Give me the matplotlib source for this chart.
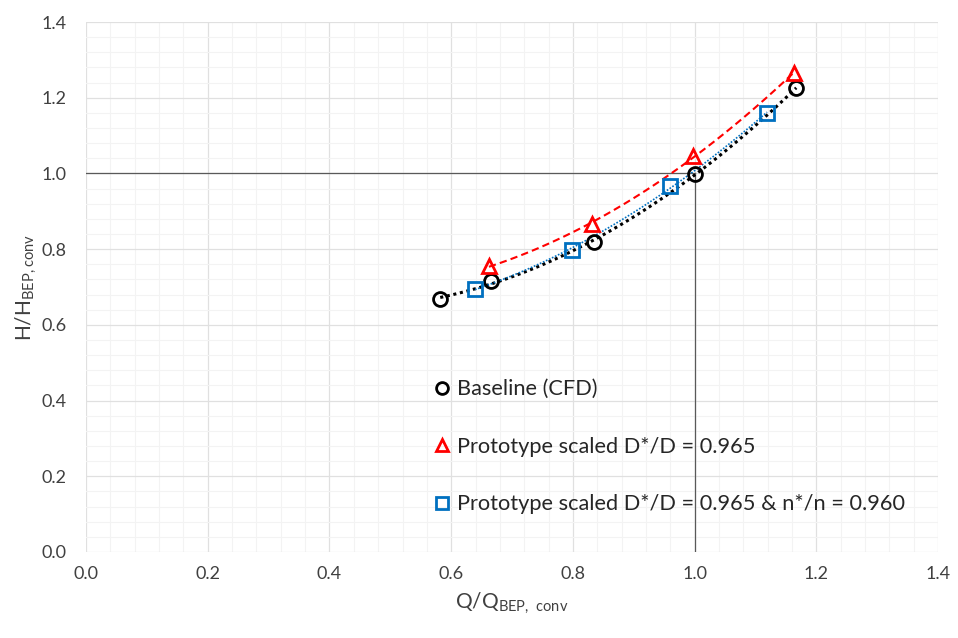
import matplotlib
matplotlib.use("Agg")
import matplotlib.pyplot as plt
from matplotlib.ticker import MultipleLocator
import numpy as np

plt.rcParams['font.family'] = ['Lato', 'DejaVu Sans']
plt.rcParams['mathtext.fontset'] = 'custom'
plt.rcParams['mathtext.rm'] = 'Lato'

# Data
q_base = [0.582, 0.665, 0.835, 1.000, 1.167]
h_base = [0.668, 0.716, 0.819, 0.998, 1.226]

q_scaled = [0.662, 0.831, 0.997, 1.163]
h_scaled = [0.755, 0.866, 1.046, 1.265]

q_scaled_n = [0.639, 0.799, 0.960, 1.119]
h_scaled_n = [0.695, 0.798, 0.967, 1.160]

labels = ["Baseline (CFD)",
          "Prototype scaled D*/D = 0.965",
          "Prototype scaled D*/D = 0.965 & n*/n = 0.960"]

RED = "#FF0000"
BLUE = "#0070C0"

fig = plt.figure(figsize=(9.58, 6.38), dpi=100)
ax = fig.add_axes([0.0898, 0.1348, 0.8894, 0.8307])


def trend(q, h):
    # 2nd order polynomial trendline, like the spreadsheet one
    c = np.polyfit(q, h, 2)
    xs = np.linspace(min(q), max(q), 100)
    return xs, np.polyval(c, xs)


# reference lines at the best efficiency point
ax.plot([0, 1.0], [1.0, 1.0], color="#595959", lw=0.9, zorder=2)
ax.plot([1.0, 1.0], [0, 1.0], color="#595959", lw=0.9, zorder=2)

xs, ys = trend(q_base, h_base)
ax.plot(xs, ys, color="black", ls=(0, (1, 1.2)), lw=2.2, zorder=3)
xs, ys = trend(q_scaled, h_scaled)
ax.plot(xs, ys, color=RED, ls=(0, (3.5, 2)), lw=1.5, zorder=3)
xs, ys = trend(q_scaled_n, h_scaled_n)
ax.plot(xs, ys, color=BLUE, ls=(0, (1, 1)), lw=1.2, zorder=3)

ms = 10
ax.plot(q_base, h_base, ls="none", marker="o", ms=ms, mfc="none",
        mec="black", mew=2, label=labels[0], zorder=4)
ax.plot(q_scaled, h_scaled, ls="none", marker="^", ms=ms, mfc="none",
        mec=RED, mew=2, label=labels[1], zorder=4)
ax.plot(q_scaled_n, h_scaled_n, ls="none", marker="s", ms=ms, mfc="none",
        mec=BLUE, mew=2, label=labels[2], zorder=4)

ax.set_xlim(0, 1.4)
ax.set_ylim(0, 1.4)
ax.xaxis.set_major_locator(MultipleLocator(0.2))
ax.yaxis.set_major_locator(MultipleLocator(0.2))
ax.xaxis.set_minor_locator(MultipleLocator(0.04))
ax.yaxis.set_minor_locator(MultipleLocator(0.04))
ax.xaxis.set_major_formatter(lambda v, p: f"{v:.1f}")
ax.yaxis.set_major_formatter(lambda v, p: f"{v:.1f}")
ax.grid(which="major", color="#e0e0e0", lw=0.9, zorder=0)
ax.grid(which="minor", color="#f3f3f3", lw=0.8, zorder=0)
ax.set_axisbelow(True)
for s in ax.spines.values():
    s.set_visible(False)
ax.tick_params(which="both", length=0, labelsize=13, colors="#404040", pad=10)
ax.tick_params(axis="y", pad=14)

ax.set_xlabel(r"Q/Q$_{\mathregular{BEP,\ conv}}$", fontsize=15, color="#404040", labelpad=6)
ax.set_ylabel(r"H/H$_{\mathregular{BEP,conv}}$", fontsize=15, color="#404040", labelpad=2)

leg = ax.legend(loc="upper left", bbox_to_anchor=(0.38, 0.363), frameon=False,
                fontsize=15.7, labelspacing=1.72, handletextpad=0.1,
                handlelength=1.15, markerscale=0.85)
for t in leg.get_texts():
    t.set_color("#262626")

fig.savefig("out.png", dpi=100)
